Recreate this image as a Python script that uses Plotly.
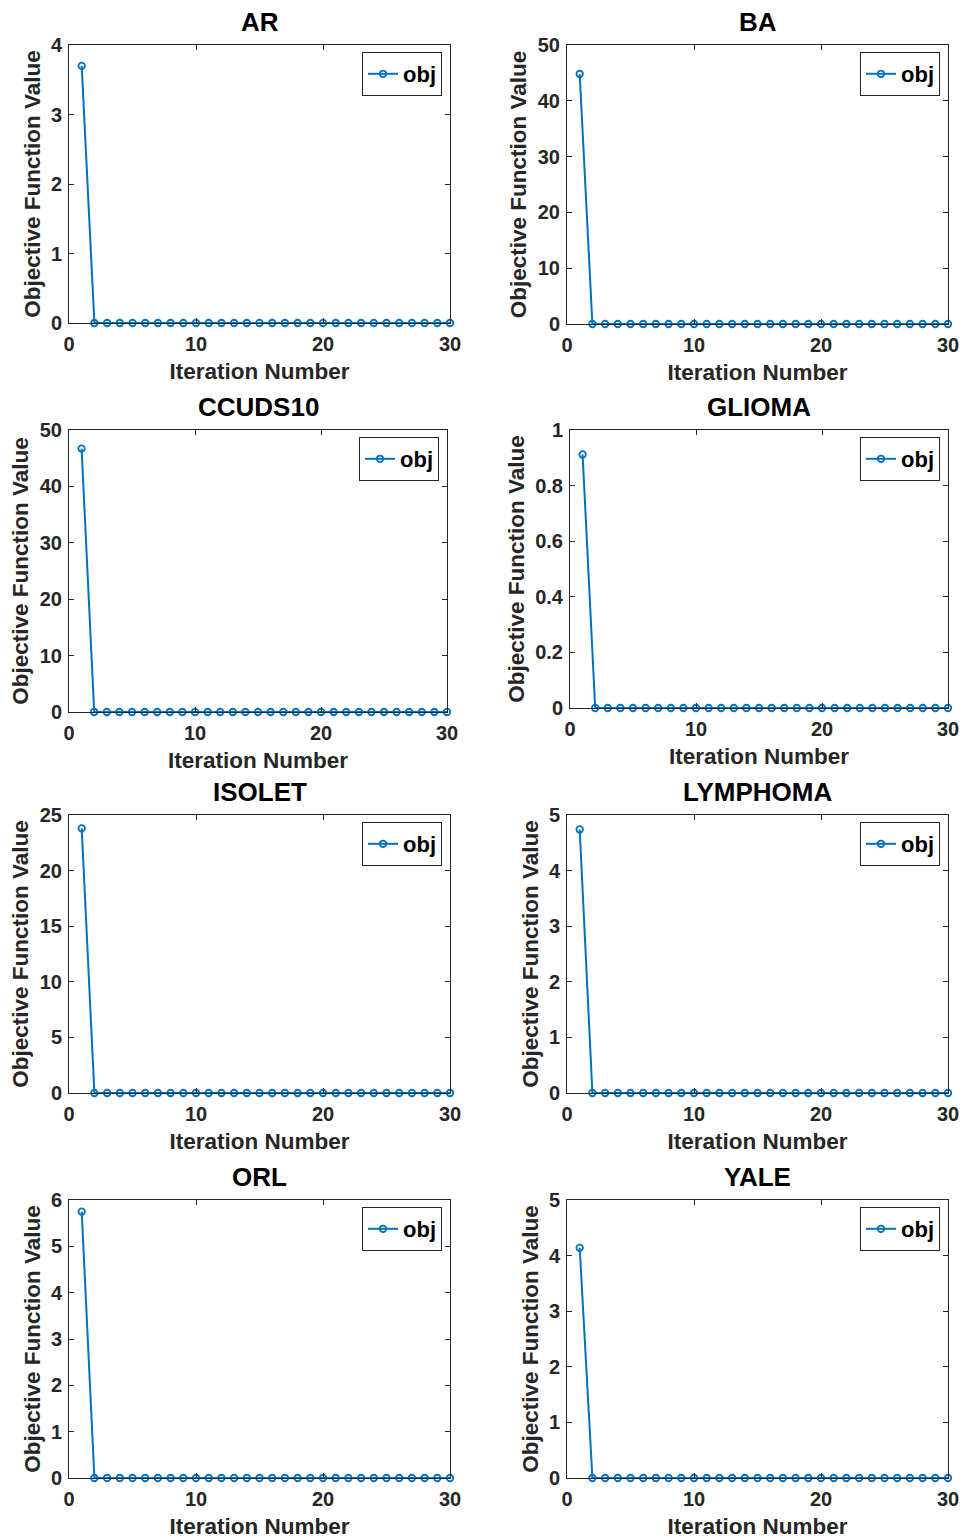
import plotly.graph_objects as go

W, H = 964, 1540

datasets = ["AR", "BA", "CCUDS10", "GLIOMA", "ISOLET", "LYMPHOMA", "ORL", "YALE"]
iterations = list(range(1, 31))
first_values = [3.70, 44.8, 46.7, 0.912, 23.8, 4.74, 5.75, 4.14]
rest_value = 0.0
y_max = [4, 50, 50, 1, 25, 5, 6, 5]
y_dtick = [1, 10, 10, 0.2, 5, 1, 1, 1]
x_ticks = [0, 10, 20, 30]

# plot-area pixel boxes (left, right, top, bottom)
boxes = [
    (69, 450, 45, 323), (567, 948, 45, 324),
    (69, 447, 430, 712), (570, 948, 430, 708),
    (69, 450, 815, 1093), (567, 948, 815, 1093),
    (69, 450, 1200, 1478), (567, 948, 1200, 1478),
]

BLUE = "#0072BD"
DARK = "#262626"
FONT = "Liberation Sans, Arial, sans-serif"

fig = go.Figure()
layout = dict(
    width=W, height=H, margin=dict(l=0, r=0, t=0, b=0, autoexpand=False),
    paper_bgcolor="white", plot_bgcolor="white",
    font=dict(family=FONT, color=DARK), annotations=[],
)

for i, name in enumerate(datasets):
    l, r, t, b = boxes[i]
    sfx = "" if i == 0 else str(i + 1)
    ys = [first_values[i]] + [rest_value] * (len(iterations) - 1)
    legend_name = "legend" if i == 0 else f"legend{i+1}"
    fig.add_trace(go.Scatter(
        x=iterations, y=ys, mode="lines+markers", name="obj",
        line=dict(color=BLUE, width=2),
        marker=dict(symbol="circle-open", size=6.5, color=BLUE, line=dict(width=1.8, color=BLUE)),
        xaxis="x" + sfx, yaxis="y" + sfx, legend=legend_name, showlegend=True,
        cliponaxis=False,
    ))
    xd = [l / W, r / W]
    yd = [1 - b / H, 1 - t / H]
    common = dict(
        showline=True, linecolor=DARK, linewidth=1, mirror="ticks",
        ticks="inside", ticklen=5, tickcolor=DARK, showgrid=False, zeroline=False,
        tickfont=dict(family=FONT, size=20, color=DARK, weight="bold"),
        automargin=False,
    )
    layout["xaxis" + sfx] = dict(
        domain=xd, range=[0, 30], tickvals=x_ticks, anchor="y" + sfx,
        title=dict(text="Iteration Number",
                   font=dict(size=22.5, family=FONT, color=DARK, weight="bold"), standoff=9),
        ticklabelstandoff=3, **common,
    )
    layout["yaxis" + sfx] = dict(
        domain=yd, range=[0, y_max[i]], dtick=y_dtick[i], anchor="x" + sfx,
        title=dict(text="Objective Function Value",
                   font=dict(size=22.5, family=FONT, color=DARK, weight="bold"), standoff=4),
        ticklabelstandoff=2, **common,
    )
    layout[legend_name] = dict(
        x=(r - 8) / W, y=1 - (t + 7) / H, xanchor="right", yanchor="top",
        bgcolor="white", bordercolor=DARK, borderwidth=1,
        font=dict(family=FONT, size=22, color="black", weight="bold"),
        itemwidth=30, tracegroupgap=0,
    )
    layout["annotations"].append(dict(
        text=name, x=(l + r) / 2 / W, y=1 - (t - 6) / H,
        xref="paper", yref="paper", xanchor="center", yanchor="bottom",
        showarrow=False, font=dict(family=FONT, size=26, color="black", weight="bold"),
    ))

fig.update_layout(**layout)
fig.write_html(
    "out.html",
    config={"displayModeBar": False},
    post_script="document.body.style.margin='0';document.body.style.padding='0';",
)
